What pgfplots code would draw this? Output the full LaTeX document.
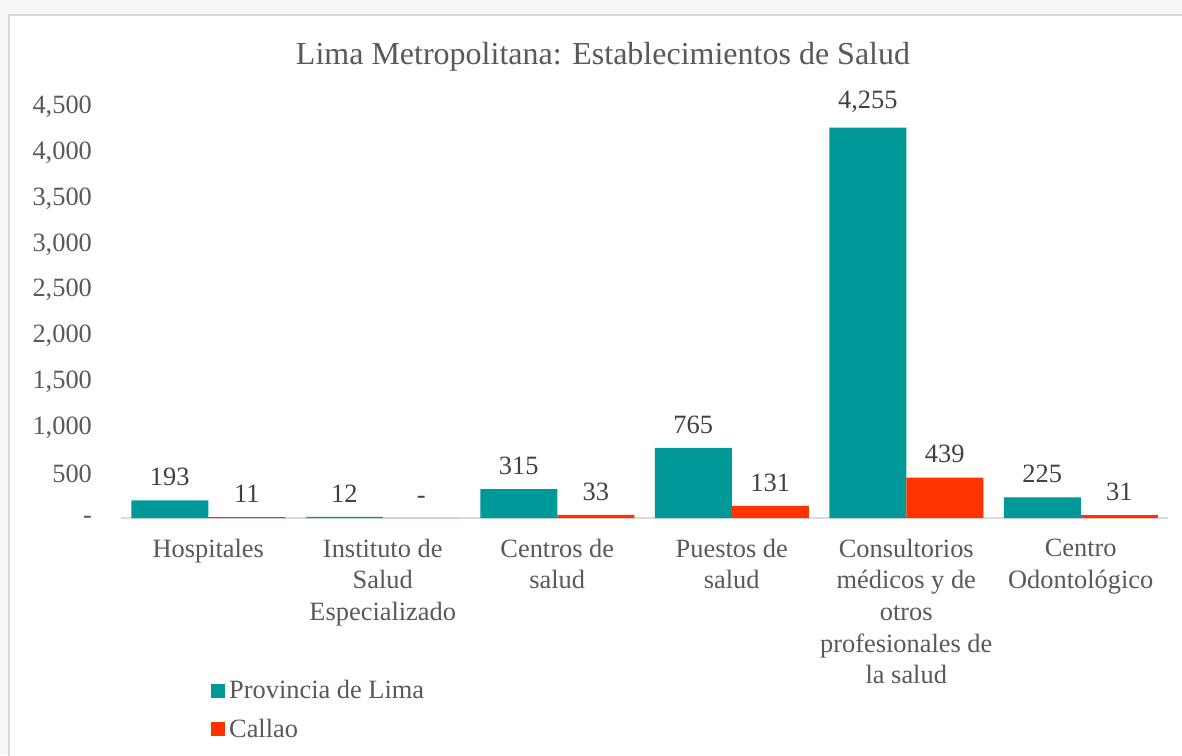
\documentclass[border=0pt]{standalone}
\usepackage{fontspec}
\setmainfont{Liberation Serif}
\usepackage{pgfplots}
\pgfplotsset{compat=1.18}
\definecolor{teal1}{HTML}{009999}
\definecolor{red1}{HTML}{FF3300}
\definecolor{txt}{HTML}{595959}
\definecolor{lbl}{HTML}{404040}
\definecolor{bord}{HTML}{D9D9D9}
\definecolor{bg}{HTML}{F6F6F6}
\newcommand{\lf}{\fontsize{13.2}{15.8}\selectfont}
\begin{document}
\begin{tikzpicture}
\useasboundingbox (0pt,0pt) rectangle (591pt,-377.5pt);
\fill[bg] (0pt,0pt) rectangle (591pt,-377.5pt);
\filldraw[fill=white, draw=bord, line width=1pt] (4.25pt,-7.25pt) rectangle (600pt,-385pt);
\node[text=txt, font=\fontsize{16}{19}\selectfont] at (301.5pt,-28.5pt) {Lima Metropolitana: Establecimientos de Salud};
\begin{axis}[
  at={(60.5pt,-259pt)}, anchor=south west,
  scale only axis, width=523.5pt, height=206.5pt,
  ybar=0pt, bar width=38.5pt,
  xmin=-0.5, xmax=5.5, ymin=0, ymax=4500,
  axis lines*=left,
  x axis line style={draw=bord, line width=1pt},
  y axis line style={draw=none},
  major tick length=0pt,
  xtick={0,1,2,3,4,5},
  xticklabels={{Hospitales},{Instituto de\\Salud\\Especializado},{Centros de\\salud},{Puestos de\\salud},{Consultorios\\médicos y de\\otros\\profesionales de\\la salud},{Centro\\Odontológico}},
  ytick={0,500,1000,1500,2000,2500,3000,3500,4000,4500},
  yticklabels={{\raisebox{-3pt}{-}},{500},{1,000},{1,500},{2,000},{2,500},{3,000},{3,500},{4,000},{4,500}},
  tick label style={font=\lf, text=txt},
  xticklabel style={align=center, yshift=-7pt},
  yticklabel style={xshift=-11pt, yshift=-0.8pt},
  clip=false,
  point meta=explicit symbolic,
  nodes near coords,
  nodes near coords style={font=\lf, text=lbl, yshift=3.7pt},
  legend style={at={(0.08,-0.373)}, anchor=north west, draw=none, fill=none, font=\lf, text=txt, row sep=4.5pt},
  legend cell align=left,
  legend image code/.code={\fill[#1] (0pt,-3.5pt) rectangle (7pt,3.5pt);},
]
\addplot[fill=teal1, draw=none] coordinates {(0,193)[193] (1,12)[12] (2,315)[315] (3,765)[765] (4,4255)[4,255] (5,225)[225]};
\addplot[fill=red1, draw=none] coordinates {(0,11)[11] (1,0)[-] (2,33)[33] (3,131)[131] (4,439)[439] (5,31)[31]};
\legend{Provincia de Lima, Callao}
\end{axis}
\end{tikzpicture}
\end{document}
